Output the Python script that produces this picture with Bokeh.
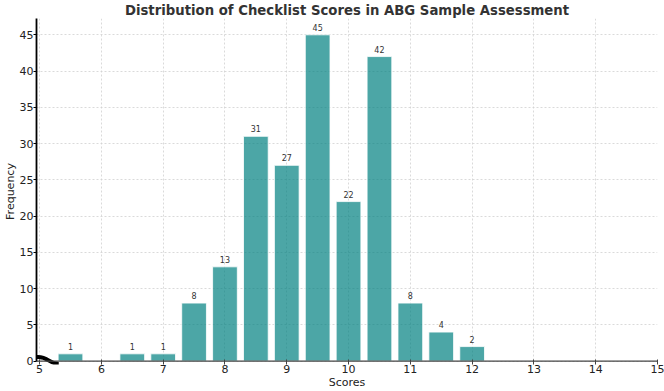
from bokeh.plotting import figure
from bokeh.models import Range1d, FixedTicker, ColumnDataSource, Span
from bokeh.embed import file_html
from bokeh.resources import INLINE
from bokeh.core.properties import value

scores = [5.5, 6.5, 7.0, 7.5, 8.0, 8.5, 9.0, 9.5, 10.0, 10.5, 11.0, 11.5, 12.0]
counts = [1, 1, 1, 8, 13, 31, 27, 45, 22, 42, 8, 4, 2]
x_ticks = list(range(5, 16))
y_ticks = list(range(0, 50, 5))

FONT = "DejaVu Sans"
Y_TOP = 47.25

src = ColumnDataSource(dict(x=scores, top=counts, label=[str(c) for c in counts]))

p = figure(width=664, height=391, output_backend="svg", toolbar_location=None,
           x_range=Range1d(4.95, 15.0), y_range=Range1d(-0.47, Y_TOP),
           min_border_left=30, min_border_right=7, min_border_top=17, min_border_bottom=24,
           title="Distribution of Checklist Scores in ABG Sample Assessment")

p.title.align = "center"
p.title.text_font = FONT
p.title.text_font_size = "13.25px"
p.title.text_font_style = "bold"
p.title.text_color = "#333333"
p.title.offset = 0
p.title.standoff = 1

p.outline_line_color = None
p.background_fill_color = "white"
p.border_fill_color = "white"

for g in (p.xgrid, p.ygrid):
    g.grid_line_color = "#d0d0d0"
    g.grid_line_dash = "2 2"
    g.grid_line_width = 0.8
p.xgrid.ticker = FixedTicker(ticks=x_ticks)
p.ygrid.ticker = FixedTicker(ticks=y_ticks)

p.xaxis.ticker = FixedTicker(ticks=x_ticks)
p.yaxis.ticker = FixedTicker(ticks=y_ticks)
for ax in (p.xaxis, p.yaxis):
    ax.major_label_text_font = FONT
    ax.major_label_text_font_size = "11px"
    ax.major_label_text_color = "#222222"
    ax.axis_label_text_font = FONT
    ax.axis_label_text_font_size = "11px"
    ax.axis_label_text_font_style = "normal"
    ax.axis_label_text_color = "#222222"
    ax.minor_tick_line_color = None
    ax.axis_label_standoff = 0
p.xaxis.axis_label = "Scores"
p.yaxis.axis_label = "Frequency"

# y axis: outward ticks, spine only over the data range
p.yaxis.major_tick_in = 0
p.yaxis.major_tick_out = 3
p.yaxis.major_label_standoff = 0
p.yaxis.bounds = (0, Y_TOP)
p.yaxis.axis_line_color = "black"
p.yaxis.axis_line_width = 1.8

# x axis: the panel sits at the frame bottom; the visible spine is drawn at y=0
p.xaxis.axis_line_color = None
p.xaxis.major_tick_in = 5
p.xaxis.major_tick_out = 0
p.xaxis.major_label_standoff = 0
p.xaxis.major_tick_line_color = "#444444"
p.add_layout(Span(location=0, dimension="width", line_color="#444444", line_width=1.2))

p.vbar(x="x", top="top", width=0.4, source=src, fill_color="#008080", fill_alpha=0.7,
       line_color="white", line_alpha=0.8, line_width=1)

p.text(x="x", y="top", text="label", source=src, text_align="center", text_baseline="bottom",
       y_offset=-4, text_font=value(FONT), text_font_size="8px", text_color="#333333")

# axis-break squiggle decoration near origin
p.bezier(x0=[4.95], y0=[0.55], x1=[5.31], y1=[-0.4],
         cx0=[5.13], cy0=[0.7], cx1=[5.16], cy1=[-0.4],
         line_color="black", line_width=4)

open("out.html", "w").write(file_html(p, INLINE))
